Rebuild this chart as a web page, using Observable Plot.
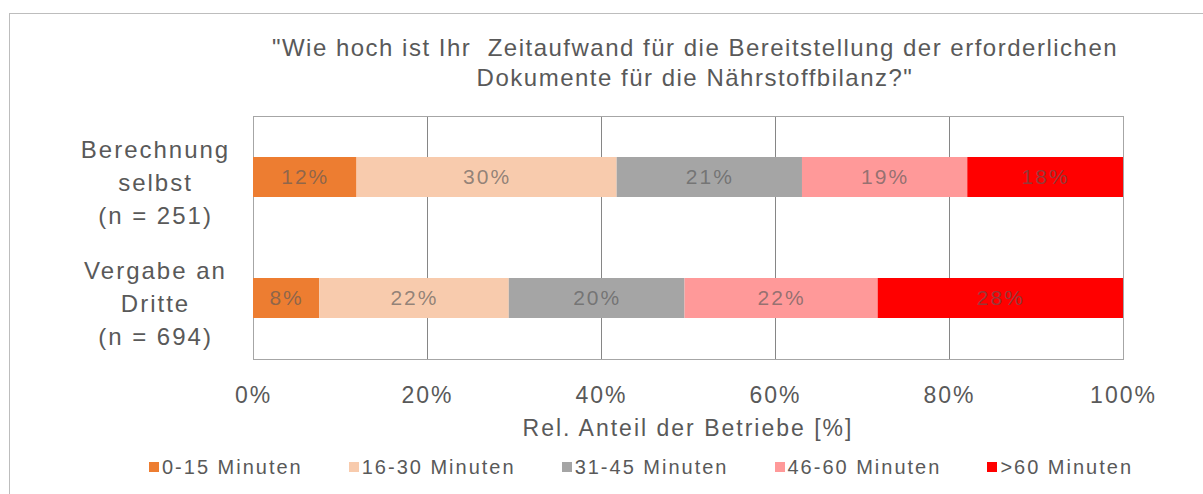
<!DOCTYPE html>
<html>
<head>
<meta charset="utf-8">
<script src="https://cdn.jsdelivr.net/npm/d3@7"></script>
<script src="https://cdn.jsdelivr.net/npm/@observablehq/plot@0.6"></script>
<style>
  html, body { margin: 0; padding: 0; background: #fff; }
  #wrap { position: relative; width: 1203px; height: 494px; overflow: hidden; background: #fff;
          font-family: "Liberation Sans", Arial, sans-serif; color: #595959; }
  #border { position: absolute; left: 9px; top: 13px; width: 1400px; height: 700px; border: 1px solid #bdbdbd; }
  #title { position: absolute; left: 95px; width: 1200px; top: 33px; text-align: center;
           font-size: 24px; line-height: 30px; letter-spacing: 1.5px; white-space: pre; }
  #chart { position: absolute; left: 0; top: 0; }
  #chart svg text { letter-spacing: 2px; }
  #xlabel { position: absolute; left: 288px; width: 800px; top: 415px; text-align: center;
            font-size: 23px; line-height: 26px; letter-spacing: 2px; }
  #legend { position: absolute; left: 149px; top: 455px; display: flex; gap: 46px;
            font-size: 20px; line-height: 24px; letter-spacing: 2px; white-space: nowrap; }
  .item { display: flex; align-items: center; }
  .sw { width: 10px; height: 10px; margin-right: 3px; }
</style>
</head>
<body>
<div id="wrap">
  <div id="border"></div>
  <div id="chart"></div>
  <div id="title"></div>
  <div id="xlabel"></div>
  <div id="legend"></div>
</div>
<script>
const titleLines = ["\"Wie hoch ist Ihr  Zeitaufwand für die Bereitstellung der erforderlichen", "Dokumente für die Nährstoffbilanz?\""];
const xAxisLabel = "Rel. Anteil der Betriebe [%]";
const categories = ["Berechnung\nselbst\n(n = 251)", "Vergabe an\nDritte\n(n = 694)"];
const seriesNames = ["0-15 Minuten", "16-30 Minuten", "31-45 Minuten", "46-60 Minuten", ">60 Minuten"];
const seriesColors = ["#ED7D31", "#F8CBAD", "#A5A5A5", "#FF9999", "#FF0000"];
const valuesSelbst = [11.9, 29.9, 21.3, 19.0, 17.9];
const valuesDritte = [7.6, 21.8, 20.2, 22.2, 28.2];
const xTicks = [0, 20, 40, 60, 80, 100];
const gridTicks = [20, 40, 60, 80];

const rows = [];
[valuesSelbst, valuesDritte].forEach((vals, gi) => {
  vals.forEach((v, si) => rows.push({group: categories[gi], series: seriesNames[si], value: v}));
});

const chart = Plot.plot({
  width: 1203,
  height: 440,
  marginLeft: 253,
  marginRight: 80,
  marginTop: 116,
  marginBottom: 81,
  style: {fontFamily: "'Liberation Sans', Arial, sans-serif", background: "transparent", color: "#595959"},
  x: {domain: [0, 100]},
  y: {domain: categories, paddingInner: 0.67, paddingOuter: 0.335},
  color: {domain: seriesNames, range: seriesColors},
  marks: [
    Plot.ruleX(gridTicks, {stroke: "#868686", strokeWidth: 1}),
    Plot.frame({stroke: "#a6a6a6"}),
    Plot.barX(rows, Plot.stackX({x: "value", y: "group", fill: "series", z: "series"})),
    Plot.text(rows, Plot.stackX({x: "value", y: "group", z: "series",
      text: d => Math.round(d.value) + "%", fill: "#595959", fillOpacity: 0.65, fontSize: 21})),
    Plot.axisY({tickSize: 0, tickPadding: 0, textAnchor: "middle", dx: -98, dy: 3, fontSize: 24,
      lineHeight: 1.375, label: null, fill: "#595959"}),
    Plot.axisX(xTicks, {tickSize: 0, tickPadding: 27, tickFormat: d => d + "%", fontSize: 23,
      label: null, fill: "#595959"})
  ]
});
document.getElementById("chart").appendChild(chart);
document.getElementById("title").textContent = titleLines.join("\n");
document.getElementById("xlabel").textContent = xAxisLabel;
const leg = document.getElementById("legend");
seriesNames.forEach((name, i) => {
  const it = document.createElement("div");
  it.className = "item";
  const sw = document.createElement("span");
  sw.className = "sw";
  sw.style.background = seriesColors[i];
  const tx = document.createElement("span");
  tx.textContent = name;
  it.appendChild(sw); it.appendChild(tx);
  leg.appendChild(it);
});
</script>
</body>
</html>
